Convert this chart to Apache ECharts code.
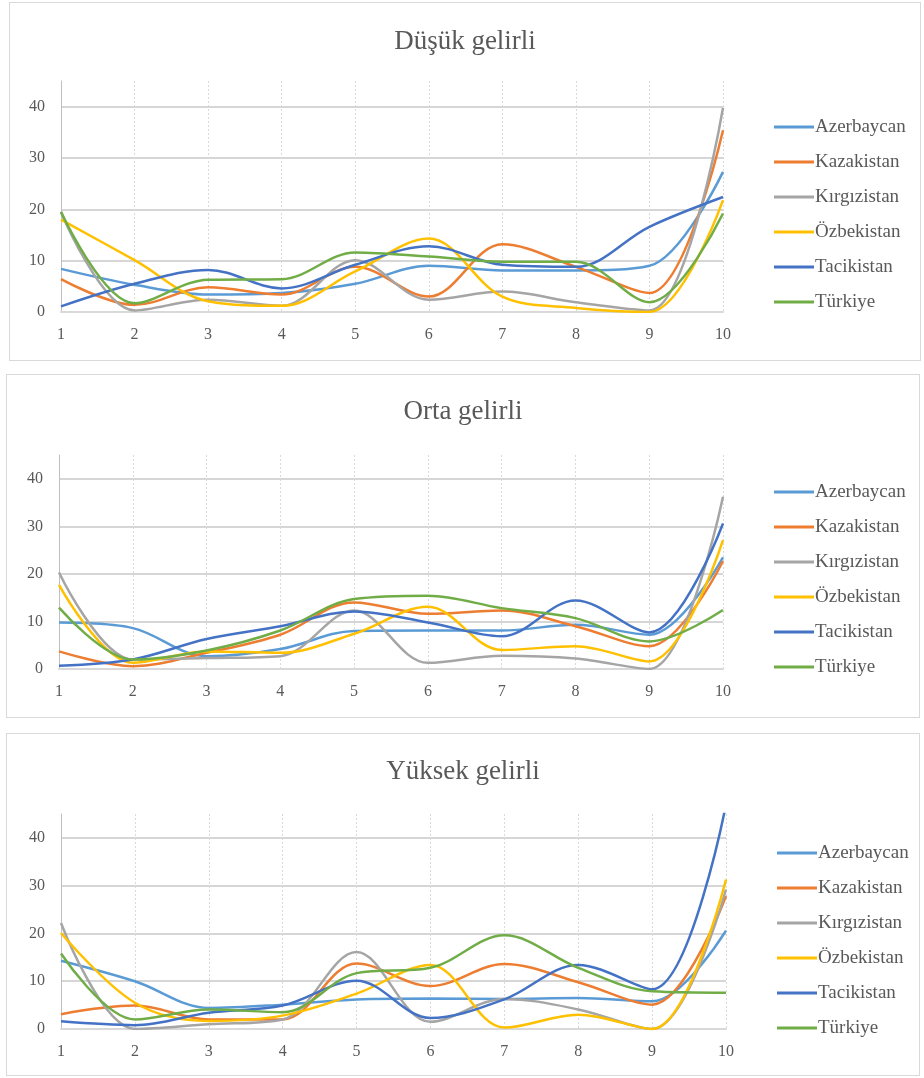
<!DOCTYPE html>
<html>
<head>
<meta charset="utf-8">
<title>Gelir grupları</title>
<script src="https://cdn.jsdelivr.net/npm/echarts@6/dist/echarts.min.js"></script>
<style>
    body { margin: 0; background: #fff; }
    .panel { position: absolute; border: 1px solid #d9d9d9; box-sizing: border-box; background: #fff; }
</style>
</head>
<body>
<div id="c1" class="panel" style="left:9px;top:2px;width:912px;height:359px"></div>
<div id="c2" class="panel" style="left:6px;top:374px;width:914px;height:344px"></div>
<div id="c3" class="panel" style="left:6px;top:733px;width:914px;height:343px"></div>
<script>
// kategoriler (x ekseni) ve ülkeler
const categories = ['1', '2', '3', '4', '5', '6', '7', '8', '9', '10'];
const countries = ['Azerbaycan', 'Kazakistan', 'Kırgızistan', 'Özbekistan', 'Tacikistan', 'Türkiye'];
const colors = ['#5B9BD5', '#ED7D31', '#A5A5A5', '#FFC000', '#4472C4', '#70AD47'];

// Düşük gelirli
const dusukAzerbaycan = [8.4, 5.3, 3.4, 3.7, 5.5, 9, 8.1, 8.1, 9, 27.3];
const dusukKazakistan = [6.4, 1.4, 4.8, 3.4, 8.8, 3, 13.2, 8.8, 3.7, 35.4];
const dusukKirgizistan = [19.5, 0.3, 2.4, 1.2, 10.1, 2.4, 4, 1.9, 0.3, 39.8];
const dusukOzbekistan = [18, 10.1, 2.1, 1.2, 7.9, 14.3, 3, 0.8, 0, 21.8];
const dusukTacikistan = [1.1, 5.5, 8.2, 4.6, 9.2, 12.8, 9.2, 8.8, 16.6, 22.4];
const dusukTurkiye = [19.5, 1.7, 6.3, 6.4, 11.6, 10.8, 9.8, 9.8, 1.9, 19.2];

// Orta gelirli
const ortaAzerbaycan = [9.8, 8.6, 2.7, 4.2, 8, 8.1, 8.1, 9.3, 7.2, 23.5];
const ortaKazakistan = [3.7, 0.6, 3.4, 7.2, 14, 11.6, 12.3, 9, 4.8, 22.7];
const ortaKirgizistan = [20.3, 2, 2.3, 2.7, 12.3, 1.3, 2.8, 2.2, 0, 36.2];
const ortaOzbekistan = [17.7, 1.3, 3.7, 3.4, 7.4, 13.1, 4, 4.8, 1.6, 27.1];
const ortaTacikistan = [0.7, 2, 6.3, 9, 12.1, 9.8, 6.9, 14.4, 7.7, 30.6];
const ortaTurkiye = [12.9, 2, 3.9, 8.1, 14.7, 15.4, 12.8, 10.7, 5.8, 12.4];

// Yüksek gelirli
const yuksekAzerbaycan = [14.3, 10, 4.4, 5.1, 6.2, 6.4, 6.3, 6.5, 5.8, 20.6];
const yuksekKazakistan = [3.1, 4.9, 2, 2, 13.7, 9, 13.6, 9.8, 5.1, 27.8];
const yuksekKirgizistan = [22.2, 0, 1, 2, 16.1, 1.5, 6.3, 4.1, 0, 29.2];
const yuksekOzbekistan = [20.1, 5.5, 1.7, 2.8, 7.4, 13.4, 0.3, 3, 0, 31.3];
const yuksekTacikistan = [1.6, 0.8, 3.4, 4.9, 10.1, 2.3, 6.2, 13.4, 8.3, 47];
const yuksekTurkiye = [15.8, 2, 4.1, 3.5, 11.7, 12.8, 19.6, 12.8, 7.9, 7.6];

const fontFamily = '"Liberation Serif", "Times New Roman", serif';
const textColor = '#595959';

// bir panelin ayarlarını oluştur
function makeOption(title, seriesData, layout) {
    return {
        animation: false,
        color: colors,
        title: {
            text: title,
            left: 'center',
            top: layout.titleTop,
            padding: [0, 0, 0, 14],
            textStyle: { fontFamily: fontFamily, fontSize: 27, fontWeight: 'normal', color: textColor },
        },
        legend: {
            orient: 'vertical',
            left: layout.legendLeft,
            top: layout.legendTop,
            icon: 'rect',
            itemWidth: 40,
            itemHeight: 3,
            itemGap: 15,
            data: countries,
            textStyle: { fontFamily: fontFamily, fontSize: 19, lineHeight: 20, color: textColor, padding: [0, 0, 0, -4] },
        },
        grid: layout.grid,
        xAxis: {
            type: 'category',
            data: categories,
            boundaryGap: false,
            axisTick: { show: false },
            axisLine: { lineStyle: { color: '#d9d9d9', width: 2 } },
            axisLabel: { fontFamily: fontFamily, fontSize: 16, color: textColor, margin: 15 },
            splitLine: { show: true, lineStyle: { color: '#d9d9d9', type: [2, 2], width: 1 } },
        },
        yAxis: {
            type: 'value',
            min: 0,
            max: 45,
            interval: 10,
            axisTick: { show: false },
            axisLine: { show: true, lineStyle: { color: '#bfbfbf', width: 1 } },
            axisLabel: { fontFamily: fontFamily, fontSize: 16, color: textColor, margin: 16, showMaxLabel: false },
            splitLine: { showMaxLine: false, lineStyle: { color: '#d6d6d6', width: 2 } },
        },
        series: countries.map((name, i) => ({
            name: name,
            type: 'line',
            data: seriesData[i],
            smooth: 0.35,
            showSymbol: false,
            clip: true,
            lineStyle: { width: 2.5 },
        })),
    };
}

const panels = [
    {
        id: 'c1', title: 'Düşük gelirli',
        data: [dusukAzerbaycan, dusukKazakistan, dusukKirgizistan, dusukOzbekistan, dusukTacikistan, dusukTurkiye],
        layout: { titleTop: 25, legendLeft: 759, legendTop: 109, grid: { left: 51, right: 197, top: 78, bottom: 48 } },
    },
    {
        id: 'c2', title: 'Orta gelirli',
        data: [ortaAzerbaycan, ortaKazakistan, ortaKirgizistan, ortaOzbekistan, ortaTacikistan, ortaTurkiye],
        layout: { titleTop: 23, legendLeft: 762, legendTop: 102, grid: { left: 52, right: 196, top: 80, bottom: 48 } },
    },
    {
        id: 'c3', title: 'Yüksek gelirli',
        data: [yuksekAzerbaycan, yuksekKazakistan, yuksekKirgizistan, yuksekOzbekistan, yuksekTacikistan, yuksekTurkiye],
        layout: { titleTop: 24, legendLeft: 765, legendTop: 104, grid: { left: 54, right: 193, top: 80, bottom: 46 } },
    },
];

panels.forEach(p => {
    const chart = echarts.init(document.getElementById(p.id), null, { renderer: 'canvas' });
    chart.setOption(makeOption(p.title, p.data, p.layout));
});
</script>
</body>
</html>
